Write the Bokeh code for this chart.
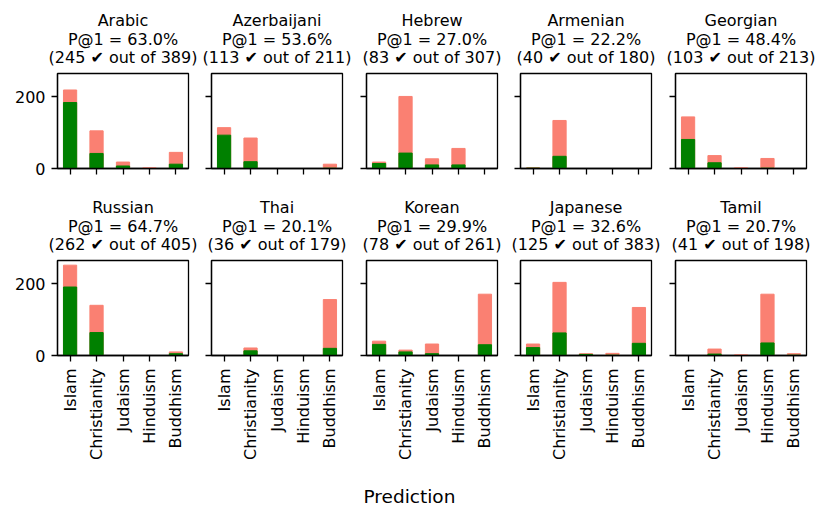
import math
from bokeh.plotting import figure
from bokeh.layouts import column, row
from bokeh.models import Range1d, FixedTicker, Title
from bokeh.embed import file_html
from bokeh.resources import INLINE

religions = ["Islam", "Christianity", "Judaism", "Hinduism", "Buddhism"]
languages = ["Arabic", "Azerbaijani", "Hebrew", "Armenian", "Georgian",
             "Russian", "Thai", "Korean", "Japanese", "Tamil"]
n_correct = [245, 113, 83, 40, 103, 262, 36, 78, 125, 41]
n_total = [389, 211, 307, 180, 213, 405, 179, 261, 383, 198]

# predictions per religion (all / correct), one row per language
pred_total = [
    [219, 105, 18, 2, 45],   # Arabic
    [114, 85, 0, 0, 12],     # Azerbaijani
    [18, 201, 27, 56, 0],    # Hebrew
    [2, 134, 0, 0, 0],       # Armenian
    [144, 36, 2, 28, 0],     # Georgian
    [252, 140, 0, 0, 10],    # Russian
    [0, 21, 0, 0, 156],      # Thai
    [40, 15, 32, 0, 171],    # Korean
    [32, 204, 5, 6, 134],    # Japanese
    [0, 18, 2, 171, 5],      # Tamil
]
pred_correct = [
    [184, 42, 7, 0, 12],
    [93, 19, 0, 0, 1],
    [14, 43, 10, 10, 0],
    [1, 34, 0, 0, 0],
    [81, 16, 0, 1, 0],
    [191, 64, 0, 0, 5],
    [0, 13, 0, 0, 20],
    [31, 10, 5, 0, 30],
    [22, 63, 3, 1, 34],
    [0, 4, 0, 35, 1],
]

FONT = "DejaVu Sans"
lefts = [57, 11, 12, 11, 12]
xpos = list(range(len(religions)))


def title_line(text, standoff):
    return Title(text=text, align="center", text_font=FONT,
                 text_font_size="16px", text_font_style="normal",
                 text_color="black", standoff=standoff)


rows = [[], []]
for i, lang in enumerate(languages):
    r, c = divmod(i, 5)
    pct = 100.0 * n_correct[i] / n_total[i]
    p = figure(x_range=Range1d(-0.475, len(religions) - 0.525),
               y_range=Range1d(0, 265), frame_width=131, frame_height=95,
               min_border_left=lefts[c], min_border_right=12,
               min_border_top=73,
               min_border_bottom=19 if r == 0 else 160,
               toolbar_location=None, output_backend="svg")
    # first added sits closest to the frame
    p.add_layout(title_line(f"({n_correct[i]} \u2714 out of {n_total[i]})", 14), "above")
    p.add_layout(title_line(f"P@1 = {pct:.1f}%", -20), "above")
    p.add_layout(title_line(lang, 16), "above")

    p.vbar(x=xpos, top=pred_total[i], width=0.5, color="salmon")
    p.vbar(x=xpos, top=pred_correct[i], width=0.5, color="green")

    p.xgrid.visible = False
    p.ygrid.visible = False
    p.outline_line_color = "black"
    p.outline_line_width = 1.3
    p.outline_line_alpha = 1.0
    p.background_fill_color = "white"
    p.border_fill_color = "white"

    for ax in (p.xaxis, p.yaxis):
        ax.axis_line_width = 1.3
        ax.major_tick_line_width = 1.3
        ax.major_tick_out = 6
        ax.major_tick_in = 0
        ax.minor_tick_line_color = None
        ax.major_label_text_font = FONT
        ax.major_label_text_font_size = "16px"
        ax.major_label_text_color = "black"
    p.yaxis.major_label_standoff = 6
    p.xaxis.major_label_standoff = 7
    p.yaxis.ticker = FixedTicker(ticks=[0, 200])
    p.xaxis.ticker = FixedTicker(ticks=xpos)
    p.xaxis.major_label_orientation = math.pi / 2
    if c != 0:
        p.yaxis.major_label_overrides = {0: "", 200: ""}
    if r == 0:
        p.xaxis.major_label_overrides = {k: "" for k in xpos}
    else:
        p.xaxis.major_label_overrides = {k: name for k, name in zip(xpos, religions)}
    if i == 7:
        xl = Title(text="Prediction", align="left", text_font=FONT,
                   text_font_size="18.5px", text_font_style="normal",
                   text_color="black", offset=-3, standoff=40)
        p.add_layout(xl, "below")
    rows[r].append(p)

layout = column(row(*rows[0]), row(*rows[1]))
open("out.html", "w").write(file_html(layout, INLINE))
